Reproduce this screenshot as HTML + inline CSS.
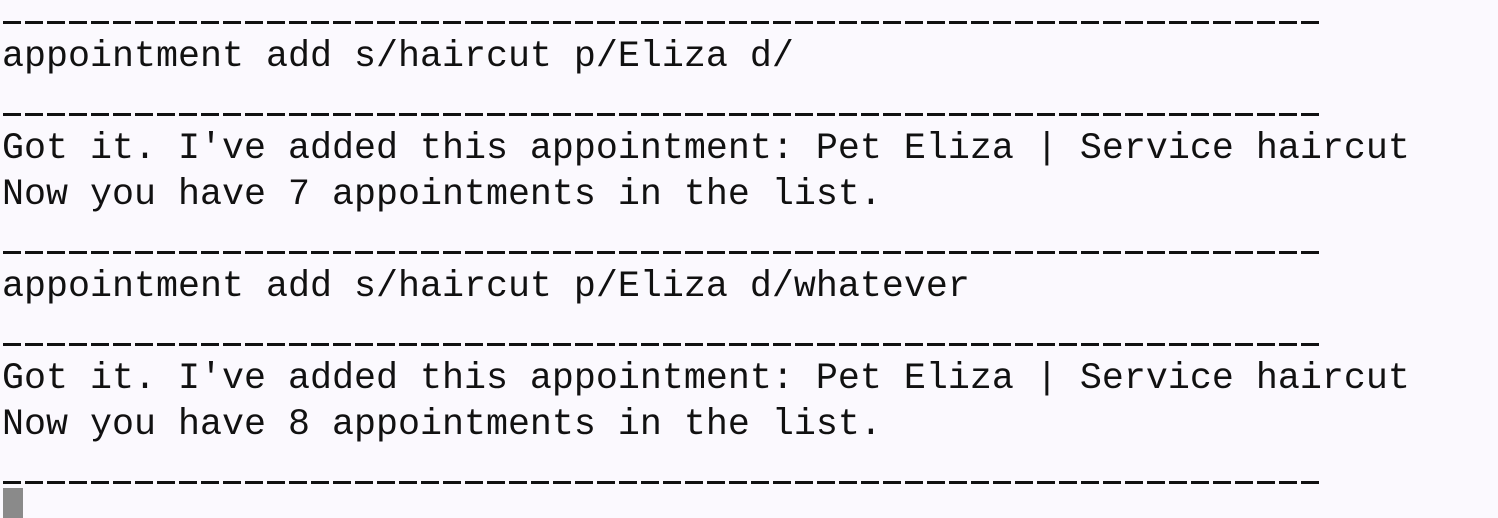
<!DOCTYPE html>
<html><head><meta charset="utf-8"><style>
html,body{margin:0;padding:0;width:1498px;height:518px;overflow:hidden;background:#fbf9fe;}
pre{position:absolute;left:2px;top:-12px;margin:0;font-family:"Liberation Mono",monospace;font-size:36.67px;line-height:46px;color:#111;}
.d{position:absolute;left:3px;width:1320px;height:3px;background:repeating-linear-gradient(90deg,#111 0 18px,transparent 18px 22px);}
.cur{position:absolute;left:3px;top:488px;width:20px;height:30px;background:#8a8a8a;}
</style></head><body>
<pre> 
appointment add s/haircut p/Eliza d/
 
Got it. I've added this appointment: Pet Eliza | Service haircut
Now you have 7 appointments in the list.
 
appointment add s/haircut p/Eliza d/whatever
 
Got it. I've added this appointment: Pet Eliza | Service haircut
Now you have 8 appointments in the list.
</pre>
<div class="d" style="top:21px"></div>
<div class="d" style="top:113px"></div>
<div class="d" style="top:251px"></div>
<div class="d" style="top:343px"></div>
<div class="d" style="top:481px"></div>
<div class="cur"></div>
</body></html>
